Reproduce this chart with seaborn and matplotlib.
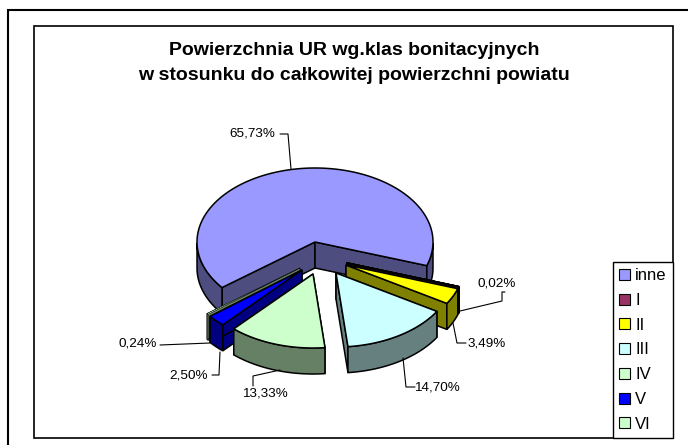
import numpy as np
import seaborn as sns
import matplotlib
matplotlib.use('Agg')
import matplotlib.pyplot as plt
from matplotlib.patches import Polygon, Rectangle

sns.set_theme(style='white')
plt.rcParams['font.family'] = ['Liberation Sans', 'DejaVu Sans']

# dane
categories = ['inne', 'I', 'II', 'III', 'IV', 'V', 'VI']
values = [65.73, 0.02, 3.49, 14.70, 13.33, 2.50, 0.24]
value_labels = ['65,73%', '0,02%', '3,49%', '14,70%', '13,33%', '2,50%', '0,24%']
colors = ['#9999FF', '#993366', '#FFFF00', '#CCFFFF', '#CCFFCC', '#0000FF', '#CCFFCC']
title = 'Powierzchnia UR wg.klas bonitacyjnych\nw stosunku do całkowitej powierzchni powiatu'

# geometria "3D"
cx, cy = 315, 242
rx, ry = 118, 74
depth = 26
start = 218
explode_x = [0, 32, 31, 21, -2, -13, -15]
explode_y = [0, 21, 23, 31, 32, 28, 26]
edge_w = [1.1, 1.2, 1.1, 1.1, 1.1, 1.1, 0.4]
draw_order = [0, 6, 5, 1, 2, 3, 4]

# pozycje opisow i linie odniesienia
label_x = [252, 497, 487, 437, 265, 189, 138]
label_y = [134, 284, 343, 387, 394, 375, 344]
leader_x = [[280, 288, 291], [505, 502, 502, 460], [466, 457, 453], [415, 406, 403], [253, 253, 280], [212, 219, 220], [160, 210]]
leader_y = [[134, 134, 169], [292, 292, 301, 311], [343, 343, 323], [387, 387, 358], [386, 376, 370], [375, 375, 352], [345, 343]]


def dark(c):
    return tuple(0.5 * x for x in matplotlib.colors.to_rgb(c))


fig = plt.figure(figsize=(6.88, 4.45), dpi=100)
ax = fig.add_axes([0, 0, 1, 1])
ax.set_xlim(0, 688)
ax.set_ylim(445, 0)
ax.axis('off')

# ramki
ax.add_patch(Rectangle((8, 10), 800, 600, fc='white', ec='black', lw=1.5, zorder=0))
ax.add_patch(Rectangle((34, 26), 639, 412, fc='white', ec='black', lw=1.2, zorder=0))

# katy wycinkow
ends = start - np.cumsum(values) * 3.6
starts = np.r_[start, ends[:-1]]
z = 1
for i in draw_order:
    t = np.radians(np.linspace(starts[i], ends[i], 160))
    x0, y0 = cx + explode_x[i], cy + explode_y[i]
    x = x0 + rx * np.cos(t)
    y = y0 - ry * np.sin(t)
    d = dark(colors[i])
    lw = edge_w[i]
    # sciany przekroju
    for xe, ye in [(x[0], y[0]), (x[-1], y[-1])]:
        ax.add_patch(Polygon([(x0, y0), (xe, ye), (xe, ye + depth), (x0, y0 + depth)],
                             fc=d, ec='black', lw=lw, zorder=z))
        z += 1
    # bok zewnetrzny - tylko dolna czesc elipsy, moze byc w dwoch kawalkach
    vis = np.sin(t) < 0
    for part in np.split(np.arange(len(t)), np.where(np.diff(vis))[0] + 1):
        if not vis[part[0]]:
            continue
        xs, ys = x[part], y[part]
        ax.add_patch(Polygon(np.r_[np.c_[xs, ys], np.c_[xs, ys + depth][::-1]],
                             fc=d, ec='black', lw=lw, zorder=z))
        z += 1
    # gora
    ax.add_patch(Polygon(np.r_[[(x0, y0)], np.c_[x, y]], fc=colors[i], ec='black', lw=lw, zorder=z))
    z += 1

# opisy
for i in range(len(values)):
    ax.plot(leader_x[i], leader_y[i], color='black', lw=0.8, zorder=z)
    ax.text(label_x[i], label_y[i], value_labels[i], ha='center', va='center',
            fontsize=9.7, color='black', zorder=z)

ax.text(354, 63, title, ha='center', va='center', fontsize=14, fontweight='bold',
        color='black', linespacing=1.55)

# legenda
handles = [Rectangle((0, 0), 1, 1, fc=c, ec='black', lw=0.8) for c in colors]
leg = ax.legend(handles, categories, loc='lower right', bbox_to_anchor=(673 / 688, 1 - 438 / 445),
                bbox_transform=fig.transFigure, fontsize=12, fancybox=False, framealpha=1,
                edgecolor='black', borderaxespad=0, handlelength=0.65, handleheight=0.65,
                handletextpad=0.3, labelspacing=0.585, borderpad=0.38, labelcolor='black')
leg.get_frame().set_linewidth(1)
leg.set_zorder(z + 1)

fig.savefig('out.png', dpi=100)
